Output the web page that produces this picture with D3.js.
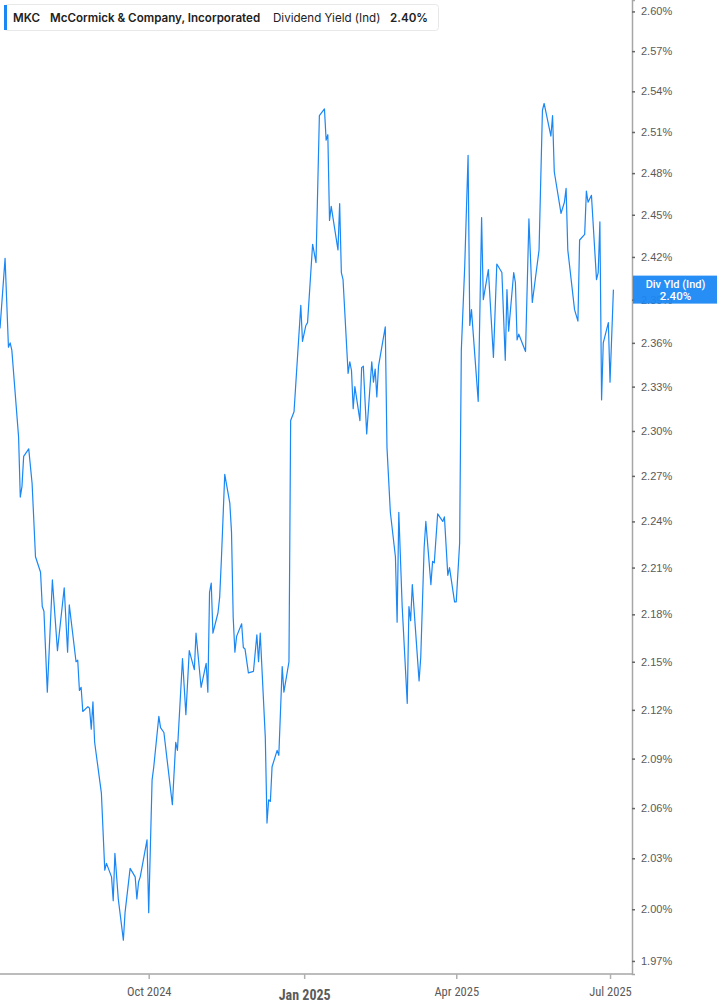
<!DOCTYPE html>
<html>
<head>
<meta charset="utf-8">
<script src="https://cdn.jsdelivr.net/npm/d3@7"></script>
<style>
  body { margin: 0; background: #fff; }
  svg { display: block; font-family: Roboto, "Liberation Sans", sans-serif; }
</style>
</head>
<body>
<script>
// dividend yield (ind), MKC
const dates = [
  "2024-07-05","2024-07-08","2024-07-10","2024-07-11","2024-07-12","2024-07-16","2024-07-17","2024-07-18","2024-07-19","2024-07-22",
  "2024-07-24","2024-07-26","2024-07-29","2024-07-30","2024-07-31","2024-08-02","2024-08-05","2024-08-08","2024-08-12","2024-08-14",
  "2024-08-15","2024-08-19","2024-08-20","2024-08-21","2024-08-22","2024-08-23","2024-08-26","2024-08-27","2024-08-28","2024-08-29",
  "2024-08-30","2024-09-03","2024-09-05","2024-09-06","2024-09-09","2024-09-10","2024-09-11","2024-09-13","2024-09-15","2024-09-16",
  "2024-09-17","2024-09-20","2024-09-23","2024-09-24","2024-09-25","2024-09-26","2024-09-30","2024-10-01","2024-10-03","2024-10-04",
  "2024-10-07","2024-10-08","2024-10-10","2024-10-15","2024-10-17","2024-10-18","2024-10-21","2024-10-23","2024-10-25","2024-10-28",
  "2024-10-29","2024-11-01","2024-11-04","2024-11-05","2024-11-06","2024-11-07","2024-11-08","2024-11-11","2024-11-12","2024-11-13",
  "2024-11-15","2024-11-18","2024-11-19","2024-11-20","2024-11-21","2024-11-22","2024-11-25","2024-11-26","2024-11-27","2024-11-29",
  "2024-12-02","2024-12-04","2024-12-05","2024-12-06","2024-12-09","2024-12-10","2024-12-11","2024-12-12","2024-12-13","2024-12-16",
  "2024-12-17","2024-12-19","2024-12-20","2024-12-23","2024-12-24","2024-12-26","2024-12-30","2024-12-31","2025-01-02","2025-01-03",
  "2025-01-06","2025-01-08","2025-01-10","2025-01-13","2025-01-14","2025-01-15","2025-01-16","2025-01-17","2025-01-21","2025-01-22",
  "2025-01-23","2025-01-24","2025-01-27","2025-01-28","2025-01-29","2025-01-30","2025-01-31","2025-02-03","2025-02-04","2025-02-05",
  "2025-02-07","2025-02-10","2025-02-11","2025-02-12","2025-02-13","2025-02-14","2025-02-18","2025-02-19","2025-02-21","2025-02-24",
  "2025-02-25","2025-02-26","2025-02-28","2025-03-03","2025-03-04","2025-03-05","2025-03-06","2025-03-10","2025-03-11","2025-03-13",
  "2025-03-14","2025-03-17","2025-03-18","2025-03-19","2025-03-21","2025-03-24","2025-03-25","2025-03-27","2025-03-28","2025-03-31",
  "2025-04-01","2025-04-03","2025-04-04","2025-04-06","2025-04-08","2025-04-09","2025-04-10","2025-04-14","2025-04-16","2025-04-17",
  "2025-04-20","2025-04-23","2025-04-25","2025-04-28","2025-04-30","2025-05-01","2025-05-02","2025-05-05","2025-05-06","2025-05-07",
  "2025-05-08","2025-05-12","2025-05-14","2025-05-16","2025-05-20","2025-05-22","2025-05-23","2025-05-27","2025-05-28","2025-05-29",
  "2025-06-02","2025-06-04","2025-06-05","2025-06-06","2025-06-10","2025-06-12","2025-06-13","2025-06-16","2025-06-17","2025-06-18",
  "2025-06-20","2025-06-23","2025-06-24","2025-06-25","2025-06-26","2025-06-27","2025-06-30","2025-07-01","2025-07-03"
];
const yields = [
  2.370,2.419,2.357,2.360,2.355,2.296,2.256,2.263,2.283,2.288,
  2.265,2.217,2.207,2.185,2.182,2.131,2.202,2.157,2.197,2.156,
  2.186,2.150,2.151,2.132,2.134,2.119,2.122,2.121,2.108,2.125,
  2.100,2.069,2.023,2.027,2.019,2.005,2.033,2.006,1.990,1.982,
  1.998,2.024,2.019,2.006,2.016,2.019,2.041,1.998,2.077,2.085,
  2.116,2.109,2.106,2.062,2.100,2.095,2.152,2.117,2.157,2.145,
  2.168,2.134,2.149,2.131,2.194,2.200,2.168,2.181,2.191,2.215,
  2.271,2.252,2.233,2.178,2.156,2.166,2.174,2.159,2.158,2.143,
  2.144,2.167,2.150,2.168,2.103,2.051,2.065,2.064,2.085,2.095,
  2.092,2.147,2.131,2.150,2.307,2.313,2.386,2.361,2.372,2.374,
  2.429,2.416,2.522,2.527,2.504,2.508,2.446,2.456,2.425,2.458,
  2.409,2.404,2.339,2.347,2.341,2.315,2.330,2.307,2.343,2.344,
  2.298,2.347,2.333,2.342,2.323,2.344,2.371,2.289,2.246,2.217,
  2.175,2.246,2.185,2.124,2.185,2.176,2.199,2.138,2.153,2.223,
  2.240,2.199,2.214,2.213,2.245,2.240,2.243,2.205,2.210,2.188,
  2.188,2.226,2.355,2.413,2.493,2.372,2.383,2.320,2.448,2.390,
  2.411,2.350,2.415,2.409,2.348,2.397,2.368,2.409,2.402,2.362,
  2.366,2.354,2.447,2.388,2.425,2.526,2.531,2.507,2.522,2.481,
  2.451,2.459,2.469,2.425,2.383,2.375,2.432,2.436,2.467,2.459,
  2.464,2.404,2.409,2.445,2.321,2.360,2.374,2.333,2.397
];

const yTicks = [1.97,2.00,2.03,2.06,2.09,2.12,2.15,2.18,2.21,2.24,2.27,2.30,2.33,2.36,2.39,2.42,2.45,2.48,2.51,2.54,2.57,2.60];
const xTicks = ["2024-10-01","2025-01-01","2025-04-01","2025-07-01"];
const xTickLabels = ["Oct 2024","Jan 2025","Apr 2025","Jul 2025"];

const ticker = "MKC";
const company = "McCormick & Company, Incorporated";
const seriesName = "Dividend Yield (Ind)";

const width = 717, height = 1005;
const plotW = 632, plotH = 974;
const blue = "#1a87f4";

const parse = d3.timeParse("%Y-%m-%d");
const data = dates.map((d, i) => ({date: parse(d), value: yields[i]}));
const last = data[data.length - 1];

const svg = d3.select("body").append("svg")
    .attr("width", width)
    .attr("height", height);

const x = d3.scaleTime()
    .domain([parse("2024-07-05"), parse("2025-07-14")])
    .range([0, plotW]);

const y = d3.scaleLog()
    .domain([1.9625, 2.6087])
    .range([plotH, 0]);

// right axis
const yAxis = svg.append("g")
    .attr("transform", `translate(${plotW},0)`)
    .call(d3.axisRight(y).tickValues(yTicks).tickSize(3).tickPadding(6)
        .tickFormat(d => d.toFixed(2) + "%"));
yAxis.select(".domain").attr("stroke", "#a6a6a6").attr("stroke-width", 1.5);
yAxis.selectAll(".tick line").attr("stroke", "#666").attr("stroke-width", 1.5);
yAxis.selectAll(".tick text")
    .attr("fill", "#5a5a5a")
    .style("font-size", "11px");

// bottom axis
const xAxis = svg.append("g")
    .attr("transform", `translate(0,${plotH})`)
    .call(d3.axisBottom(x).tickValues(xTicks.map(parse)).tickSize(5).tickPadding(8)
        .tickFormat((d, i) => xTickLabels[i]));
xAxis.select(".domain").attr("d", `M0,0H${plotW}`).attr("stroke", "#a6a6a6").attr("stroke-width", 1.5);
xAxis.selectAll(".tick line").attr("stroke", "#b0b0b0").attr("stroke-width", 1.5);
xAxis.selectAll(".tick text")
    .attr("fill", "#5a5a5a")
    .style("font-family", "'Liberation Sans Narrow', 'Roboto Condensed', Roboto, sans-serif")
    .style("font-size", (d, i) => i === 1 ? "14px" : "12.5px")
    .style("font-weight", (d, i) => i === 1 ? "bold" : "normal")
    .attr("dy", (d, i) => i === 1 ? "0.95em" : "0.71em");

// the line
const line = d3.line()
    .x(d => x(d.date))
    .y(d => y(d.value));

svg.append("path")
    .datum(data)
    .attr("fill", "none")
    .attr("stroke", blue)
    .attr("stroke-width", 1.2)
    .attr("stroke-linejoin", "round")
    .attr("d", line);

// last value badge (sits over the 2.39% label, as in the original)
const badge = svg.append("g")
    .attr("transform", `translate(${plotW + 1},${y(last.value)})`);
badge.append("rect")
    .attr("x", 0).attr("y", -14)
    .attr("width", width - plotW - 1).attr("height", 28)
    .attr("fill", blue)
    .attr("fill-opacity", 0.94);
badge.append("text")
    .attr("x", (width - plotW) / 2).attr("y", -2)
    .attr("text-anchor", "middle")
    .attr("fill", "#fff")
    .style("font-size", "11px")
    .style("font-weight", "500")
    .text("Div Yld (Ind)");
badge.append("text")
    .attr("x", (width - plotW) / 2).attr("y", 10)
    .attr("text-anchor", "middle")
    .attr("fill", "#fff")
    .style("font-size", "11.5px")
    .style("font-weight", "500")
    .text(last.value.toFixed(2) + "%");

// legend box
const legend = svg.append("g");
legend.append("rect")
    .attr("x", 4.5).attr("y", 4.5)
    .attr("width", 434).attr("height", 26)
    .attr("rx", 3)
    .attr("fill", "#fff")
    .attr("stroke", "#e8e8e8");
legend.append("rect")
    .attr("x", 4).attr("y", 5)
    .attr("width", 3).attr("height", 25)
    .attr("fill", blue);

const legendItems = [
  {text: ticker, x: 13, bold: true},
  {text: company, x: 50, bold: true},
  {text: seriesName, x: 273, bold: false},
  {text: last.value.toFixed(2) + "%", x: 390, bold: true}
];
legend.selectAll("text.item")
    .data(legendItems)
    .join("text")
    .attr("class", "item")
    .attr("x", d => d.x)
    .attr("y", 21.5)
    .attr("fill", "#222")
    .style("font-family", "Inter, Roboto, sans-serif")
    .style("font-size", "11.6px")
    .style("font-weight", d => d.bold ? "600" : "normal")
    .text(d => d.text);
</script>
</body>
</html>
